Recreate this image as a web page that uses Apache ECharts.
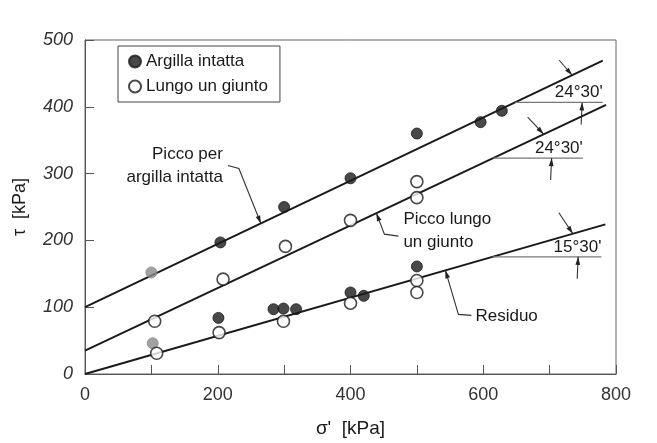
<!DOCTYPE html>
<html>
<head>
<meta charset="utf-8">
<script src="https://cdn.jsdelivr.net/npm/echarts@6/dist/echarts.min.js"></script>
<style>
html,body{margin:0;padding:0;background:#fff;}
#c{width:657px;height:443px;}
</style>
</head>
<body>
<div id="c"></div>
<script>
// ---- data (σ' [kPa], τ [kPa]) ----
const xTicks = [0, 200, 400, 600, 800];
const yTicks = [0, 100, 200, 300, 400, 500];
const intactPeak = [[204,197],[300,250],[400,293],[500,360],[596,377],[628,394]];
const intactPeakFaded = [[100,152]];
const jointPeak = [[105,79],[208,142],[302,191],[400,230],[500,288],[500,264]];
const intactResidual = [[201,84],[284,97],[299,98],[318,97],[400,122],[420,117],[500,161]];
const intactResidualFaded = [[102,46]];
const jointResidual = [[108,31],[202,62],[299,79],[400,106],[500,140],[500,122]];
const envPeakIntact = [[0,100],[780,469]];
const envPeakJoint = [[0,35],[785,403]];
const envResidual = [[0,0],[784,224]];
const angleLabels = ["24°30'", "24°30'", "15°30'"];

const FONT = 'Liberation Sans, Arial, sans-serif';
const INK = '#1a1a1a';

const chart = echarts.init(document.getElementById('c'));
function lineSeries(d){
  return {type:'line', data:d, symbol:'none', silent:true,
    lineStyle:{color:INK, width:2}, z:2};
}
function filled(d, color){
  return {name:'Argilla intatta', type:'scatter', data:d, symbol:'circle', symbolSize:11,
    itemStyle:{color:color, borderColor:color, borderWidth:1}, z:4};
}
function open(d){
  return {name:'Lungo un giunto', type:'scatter', data:d, symbol:'circle', symbolSize:12,
    itemStyle:{color:'#fff', borderColor:INK, borderWidth:1.6}, z:4};
}
chart.setOption({
  animation:false,
  backgroundColor:'#fff',
  grid:{left:85, right:41, top:40, bottom:68, show:true, borderColor:'#666', borderWidth:1},
  legend:{
    data:['Argilla intatta','Lungo un giunto'], orient:'vertical', left:118, top:46,
    borderColor:'#444', borderWidth:1, padding:[7,12,7,10], itemGap:8,
    itemWidth:12, itemHeight:12,
    textStyle:{fontFamily:FONT, fontSize:17, color:INK}
  },
  xAxis:{type:'value', min:0, max:800, interval:100,
    axisLine:{lineStyle:{color:'#555', width:1}},
    axisTick:{inside:true, length:9, lineStyle:{color:'#555'}},
    splitLine:{show:false},
    axisLabel:{fontFamily:FONT, fontSize:18, color:'#333', margin:12,
      formatter:v => xTicks.includes(v) ? String(v) : ''},
    name:"σ'  [kPa]", nameLocation:'middle', nameGap:45,
    nameTextStyle:{fontFamily:FONT, fontSize:19, color:INK}
  },
  yAxis:{type:'value', min:0, max:500, interval:100,
    axisLine:{show:true, lineStyle:{color:'#555', width:1}},
    axisTick:{show:true, inside:true, length:9, lineStyle:{color:'#555'}},
    splitLine:{show:false},
    axisLabel:{fontFamily:FONT, fontSize:18, color:'#333', margin:12, fontStyle:'italic',
      formatter:v => yTicks.includes(v) ? String(v) : ''},
    name:'τ  [kPa]', nameLocation:'middle', nameGap:56,
    nameTextStyle:{fontFamily:FONT, fontSize:18, color:INK}
  },
  series:[
    lineSeries(envPeakIntact), lineSeries(envPeakJoint), lineSeries(envResidual),
    filled(intactPeak, '#1a1a1a'), filled(intactPeakFaded, '#8a8a8a'),
    filled(intactResidual, '#1a1a1a'), filled(intactResidualFaded, '#8a8a8a'),
    open(jointPeak), open(jointResidual)
  ]
});

// ---- annotations positioned through the axes ----
const P = (s,t) => chart.convertToPixel({gridIndex:0}, [s,t]);
const onLine = (env, s) => {
  const [a,b] = env; return a[1] + (b[1]-a[1])*(s-a[0])/(b[0]-a[0]);
};
const g = [];
function poly(pts, color, w){
  g.push({type:'polyline', shape:{points:pts}, style:{stroke:color||'#333', lineWidth:w||1.2, fill:null}, z:10});
}
function head(from, tip, color){
  const dx = tip[0]-from[0], dy = tip[1]-from[1], L = Math.hypot(dx,dy);
  const ux = dx/L, uy = dy/L, len = 8, wd = 2.4;
  const bx = tip[0]-ux*len, by = tip[1]-uy*len;
  g.push({type:'polygon', shape:{points:[tip,[bx-uy*wd, by+ux*wd],[bx+uy*wd, by-ux*wd]]},
    style:{fill:color||'#222'}, z:11});
}
function arrow(tail, tip){ poly([tail, tip], '#333', 1.1); head(tail, tip); }
function text(str, x, y, align, size){
  g.push({type:'text', x:x, y:y, z:12, style:{text:str, fill:INK, font:(size||17)+'px '+FONT,
    textAlign:align||'left', textVerticalAlign:'middle', lineHeight:23}});
}

// Picco per argilla intatta
{
  const tip = P(265, onLine(envPeakIntact, 265));
  const p1 = [tip[0]-22, tip[1]-55], p0 = [tip[0]-33, tip[1]-58];
  poly([p0, p1, tip], '#333', 1.1); head(p1, tip);
  text('Picco per\nargilla intatta', tip[0]-38, tip[1]-58, 'right');
}
// Picco lungo un giunto
{
  const tip = P(439, onLine(envPeakJoint, 439));
  const p1 = [tip[0]+8, tip[1]+21], p2 = [tip[0]+22, tip[1]+23];
  poly([p2, p1, tip], '#333', 1.1); head(p1, tip);
  text('Picco lungo\nun giunto', tip[0]+27, tip[1]+18, 'left');
}
// Residuo
{
  const tip = P(543, onLine(envResidual, 543));
  const p1 = [tip[0]+13, tip[1]+44], p2 = [tip[0]+26, tip[1]+45];
  poly([p2, p1, tip], '#333', 1.1); head(p1, tip);
  text('Residuo', tip[0]+30, tip[1]+46, 'left');
}
// friction angles
const angleSpecs = [
  {env:envPeakIntact, s0:648, s1:780, sA:734, sB:749, tail:[-13,-15]},
  {env:envPeakJoint,  s0:615, s1:750, sA:691, sB:703, tail:[-16,-17]},
  {env:envResidual,   s0:614, s1:778, sA:735, sB:743, tail:[-14,-21]}
];
angleSpecs.forEach((a, i) => {
  const t = onLine(a.env, a.s0);
  const L0 = P(a.s0, t), L1 = P(a.s1, t);
  poly([L0, L1], '#777', 1.3);
  text(angleLabels[i], L1[0], L1[1]-10, 'right', 17);
  const tipA = P(a.sA, onLine(a.env, a.sA));
  arrow([tipA[0]+a.tail[0], tipA[1]+a.tail[1]], tipA);
  const tipB = P(a.sB, t);
  arrow([tipB[0]-1, tipB[1]+22], tipB);
});
chart.setOption({graphic:g});
</script>
</body>
</html>
